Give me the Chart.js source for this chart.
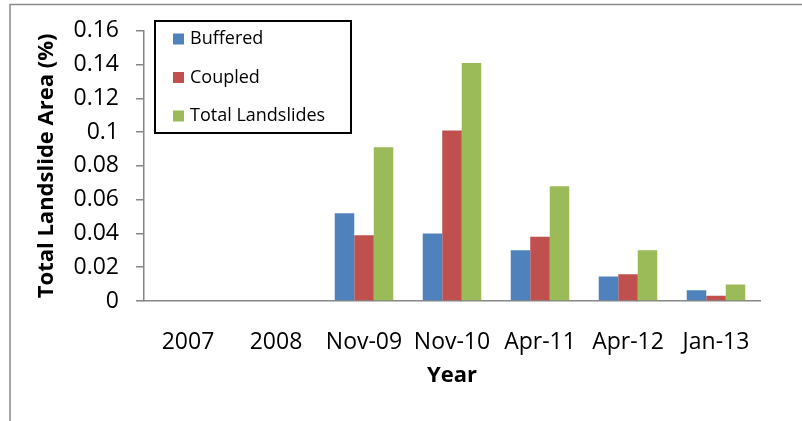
<!DOCTYPE html>
<html>
<head>
<meta charset="utf-8">
<script src="https://cdn.jsdelivr.net/npm/chart.js@4/dist/chart.umd.min.js"></script>
<style>
  body { margin: 0; background: #fff; }
  #wrap { width: 802px; height: 421px; position: relative; }
</style>
</head>
<body>
<div id="wrap"><canvas id="chart1"></canvas></div>
<script>
const categories = ["2007", "2008", "Nov-09", "Nov-10", "Apr-11", "Apr-12", "Jan-13"];
const buffered = [0, 0, 0.052, 0.040, 0.030, 0.0145, 0.0064];
const coupled = [0, 0, 0.039, 0.101, 0.038, 0.0158, 0.0031];
const totalLandslides = [0, 0, 0.091, 0.141, 0.068, 0.030, 0.0097];
const yTicks = [0, 0.02, 0.04, 0.06, 0.08, 0.1, 0.12, 0.14, 0.16];

(() => {
  const axisGray = "#868686";
  const fontFamily = "'Open Sans', sans-serif";

  // outer frame of the original figure (top + left edges only are visible)
  const framePlugin = {
    id: "frame",
    beforeDraw: (chart) => {
      const ctx = chart.ctx;
      ctx.save();
      ctx.strokeStyle = "#8a8a8a";
      ctx.lineWidth = 1.5;
      ctx.beginPath();
      ctx.moveTo(10, 421);
      ctx.lineTo(10, 4.5);
      ctx.lineTo(802, 4.5);
      ctx.stroke();
      ctx.restore();
    },
  };

  // legend box sitting inside the plot, drawn from the datasets
  const boxLegend = {
    id: "boxLegend",
    afterDraw: (chart) => {
      const ctx = chart.ctx;
      ctx.save();
      ctx.strokeStyle = "#000";
      ctx.lineWidth = 2;
      ctx.strokeRect(155, 21, 196, 112);
      ctx.font = "18px " + fontFamily;
      ctx.textBaseline = "middle";
      chart.data.datasets.forEach((ds, i) => {
        const cy = 39 + i * 38.5;
        ctx.fillStyle = ds.backgroundColor;
        ctx.fillRect(173, cy - 5.5, 11, 11);
        ctx.fillStyle = "#000";
        ctx.fillText(ds.label, 190, cy);
      });
      ctx.restore();
    },
  };

  const canvas = document.getElementById("chart1");
  new Chart(canvas.getContext("2d"), {
    type: "bar",
    data: {
      labels: categories,
      datasets: [
        { label: "Buffered", data: buffered, backgroundColor: "#4F81BD" },
        { label: "Coupled", data: coupled, backgroundColor: "#C0504D" },
        { label: "Total Landslides", data: totalLandslides, backgroundColor: "#9BBB59" },
      ],
    },
    options: {
      responsive: true,
      maintainAspectRatio: false,
      animation: false,
      layout: { padding: { left: 0, right: 42, top: 25, bottom: 0 } },
      datasets: {
        bar: { categoryPercentage: 0.665, barPercentage: 1, borderWidth: 0 },
      },
      plugins: {
        legend: { display: false },
        tooltip: { enabled: false },
      },
      scales: {
        x: {
          grid: { display: false },
          border: { color: axisGray, width: 1.5 },
          ticks: { color: "#000", padding: 20, font: { family: fontFamily, size: 23 } },
          title: {
            display: true,
            text: "Year",
            color: "#000",
            padding: { top: 0, bottom: 32 },
            font: { family: fontFamily, size: 22, weight: "bold" },
          },
          afterFit: (s) => { s.height = 120; },
        },
        y: {
          min: 0,
          max: 0.16,
          afterBuildTicks: (s) => { s.ticks = yTicks.map((v) => ({ value: v })); },
          grid: { drawOnChartArea: false, drawTicks: true, tickLength: 8, color: axisGray, lineWidth: 1.5 },
          border: { color: axisGray, width: 1.5 },
          ticks: {
            color: "#000",
            padding: 17,
            font: { family: fontFamily, size: 23 },
            callback: (v) => String(Number(v.toFixed(2))),
          },
          title: {
            display: true,
            text: "Total Landslide Area (%)",
            color: "#000",
            padding: { top: 34, bottom: 0 },
            font: { family: fontFamily, size: 22, weight: "bold" },
          },
          afterFit: (s) => { s.width = 144; },
        },
      },
    },
    plugins: [framePlugin, boxLegend],
  });
})();
</script>
</body>
</html>
